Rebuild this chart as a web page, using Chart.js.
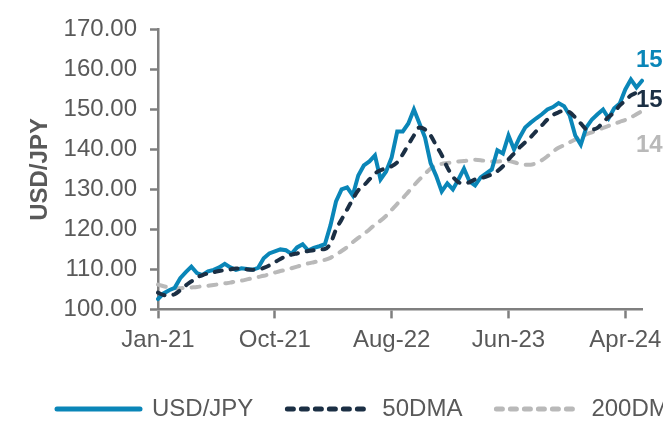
<!DOCTYPE html>
<html>
<head>
<meta charset="utf-8">
<script src="https://cdn.jsdelivr.net/npm/chart.js@4.4.1/dist/chart.umd.min.js"></script>
<style>
  html, body { margin: 0; padding: 0; background: #fff; overflow: hidden; }
  canvas { display: block; }
</style>
</head>
<body>
<canvas id="fxChart" width="740" height="431"></canvas>
<script>
'use strict';

// bi-weekly observations, Jan-21 .. end Apr-24
const tickLabels = ['Jan-21', 'Oct-21', 'Aug-22', 'Jun-23', 'Apr-24'];
const tickEvery = 21;

const usdJpy = [
  102.6, 104.0, 104.8, 105.4, 107.8, 109.3, 110.7, 109.1, 108.6, 109.5,
  109.9, 110.5, 111.4, 110.5, 109.9, 110.3, 110.1, 109.9, 110.4, 112.8,
  114.0, 114.5, 115.0, 114.8, 113.9, 115.5, 116.3, 114.7, 115.4, 115.8,
  116.3, 121.0, 127.0, 130.0, 130.5, 128.5, 133.5, 136.0, 137.0, 138.5,
  132.5, 134.5, 138.0, 144.5, 144.5, 146.5, 150.0, 146.5, 143.0, 136.6,
  133.4, 129.5, 131.5, 130.0, 132.5, 135.2, 132.0, 131.0, 133.0, 134.0,
  135.0, 139.8, 139.0, 143.5, 140.0, 143.0, 145.5, 146.7, 147.8, 148.8,
  150.0, 150.6, 151.6, 150.8, 148.5, 143.5, 141.2, 145.5, 147.5, 148.8,
  150.0, 147.8, 150.3, 151.5, 155.0, 157.5, 155.5, 157.2
];

const dma50 = [
  104.2, 103.6, 103.5, 103.8, 104.8, 106.0, 107.0, 108.0, 108.6, 109.0,
  109.3, 109.6, 109.8, 110.0, 110.2, 110.2, 110.0, 109.9, 109.9, 110.4,
  111.0, 111.8, 112.6, 113.3, 113.7, 114.0, 114.3, 114.6, 114.8, 115.0,
  115.1, 116.5, 120.0, 122.5, 125.0, 127.5, 129.8, 131.0, 132.5, 134.0,
  134.8, 135.3, 135.8, 136.8, 138.8, 141.2, 143.5, 145.5, 145.0, 143.5,
  141.0, 138.6, 135.5, 133.2, 131.8, 131.5, 131.8, 132.5, 132.8, 133.2,
  133.8, 134.6, 135.8, 137.5, 139.0, 140.5, 141.8, 143.1, 144.6, 146.0,
  147.5, 148.6, 149.3, 149.7, 149.3, 148.0, 146.5, 145.1, 145.0, 145.4,
  146.8, 148.1, 149.3, 151.0, 152.2, 153.5, 154.2, 154.8
];

const dma200 = [
  106.2, 105.8, 105.5, 105.3, 105.3, 105.4, 105.5, 105.6, 105.8, 105.9,
  106.1, 106.3, 106.5, 106.7, 107.0, 107.2, 107.5, 107.8, 108.1, 108.4,
  108.8, 109.2, 109.6, 109.9, 110.3, 110.7, 111.1, 111.5, 111.8, 112.1,
  112.4, 112.9, 113.7, 114.6, 115.6, 116.8, 117.9, 118.9, 120.0, 121.2,
  122.2, 123.4, 124.9, 126.4, 127.8, 129.4, 131.0, 132.5, 133.9, 135.2,
  136.0, 136.4, 136.6, 136.8, 137.0, 137.1, 137.3, 137.4, 137.3, 137.1,
  137.0, 137.0, 137.1, 137.1, 136.8, 136.4, 136.2, 136.2, 136.6, 137.3,
  138.3, 139.5, 140.4, 141.1, 141.8, 142.5, 143.2, 143.8, 144.3, 144.8,
  145.4, 145.9, 146.4, 146.9, 147.4, 148.0, 148.8, 149.6
];

const endLabels = ['156.82', '152.10', '149.07'];

const categories = usdJpy.map((_, i) => i);

const BLUE = '#0A86B8';
const NAVY = '#1B2F44';
const GREY = '#B9B9B9';
const AXIS = '#7F7F7F';
const TEXT = '#595959';
const FONT = "'Liberation Sans', Arial, sans-serif";

// value labels at the right end, offset from the last point of each line
const endLabelPlugin = {
  id: 'endLabels',
  afterDatasetsDraw(chart) {
    const ctx = chart.ctx;
    const offsets = [-20, 10, 34];
    ctx.save();
    ctx.font = 'bold 24px ' + FONT;
    ctx.textAlign = 'left';
    ctx.textBaseline = 'middle';
    chart.data.datasets.forEach((ds, i) => {
      const meta = chart.getDatasetMeta(i);
      const last = meta.data[meta.data.length - 1];
      if (!last) return;
      ctx.fillStyle = ds.borderColor;
      ctx.fillText(endLabels[i], chart.chartArea.right - 6, last.y + offsets[i]);
    });
    ctx.restore();
  }
};

// legend samples: take dash, width and cap from the dataset itself
function legendLabels(chart) {
  return chart.data.datasets.map((ds, i) => ({
    text: ds.label,
    datasetIndex: i,
    fillStyle: ds.borderColor,
    strokeStyle: ds.borderColor,
    fontColor: TEXT,
    lineWidth: 5,
    lineDash: ds.borderDash ? [6, 8] : [],
    lineCap: 'round',
    pointStyle: 'line',
    hidden: false
  }));
}

new Chart(document.getElementById('fxChart'), {
  type: 'line',
  data: {
    labels: categories,
    datasets: [
      {
        label: 'USD/JPY',
        data: usdJpy,
        borderColor: BLUE,
        backgroundColor: BLUE,
        borderWidth: 4,
        borderCapStyle: 'round',
        borderJoin: 'round',
        pointRadius: 0,
        tension: 0,
        order: 2
      },
      {
        label: '50DMA',
        data: dma50,
        borderColor: NAVY,
        backgroundColor: NAVY,
        borderWidth: 4,
        borderDash: [7, 9],
        borderCapStyle: 'round',
        pointRadius: 0,
        cubicInterpolationMode: 'monotone',
        order: 1
      },
      {
        label: '200DMA',
        data: dma200,
        borderColor: GREY,
        backgroundColor: GREY,
        borderWidth: 4,
        borderDash: [8, 9],
        borderCapStyle: 'round',
        pointRadius: 0,
        cubicInterpolationMode: 'monotone',
        order: 3
      }
    ]
  },
  options: {
    responsive: false,
    animation: false,
    devicePixelRatio: 1,
    layout: { padding: { left: 23, right: 0, top: 29.5, bottom: 0 } },
    plugins: {
      legend: {
        position: 'bottom',
        align: 'start',
        labels: {
          usePointStyle: true,
          pointStyle: 'line',
          pointStyleWidth: 83,
          padding: 34,
          color: TEXT,
          font: { family: FONT, size: 24 },
          generateLabels: legendLabels,
          sort: (a, b) => a.datasetIndex - b.datasetIndex
        }
      },
      tooltip: { enabled: false }
    },
    scales: {
      x: {
        type: 'category',
        grid: {
          display: true,
          drawOnChartArea: false,
          drawTicks: true,
          tickLength: 9,
          tickWidth: 2.5,
          tickColor: (c) => (c.index % tickEvery === 0 ? AXIS : 'rgba(0,0,0,0)')
        },
        border: { display: true, color: AXIS, width: 2.5 },
        ticks: {
          autoSkip: false,
          maxRotation: 0,
          padding: 7.9,
          color: TEXT,
          font: { family: FONT, size: 24 },
          callback: (v, i) => (i % tickEvery === 0 ? tickLabels[i / tickEvery] : '')
        }
      },
      y: {
        position: 'left',
        min: 100,
        max: 170,
        afterFit: (s) => { s.width = 135; },
        grid: {
          display: true,
          drawOnChartArea: false,
          drawTicks: true,
          tickLength: 8,
          tickWidth: 2.5,
          tickColor: AXIS
        },
        border: { display: true, color: AXIS, width: 2.5 },
        ticks: {
          stepSize: 10,
          padding: 13,
          color: TEXT,
          font: { family: FONT, size: 24 },
          callback: (v) => v.toFixed(2)
        },
        title: {
          display: true,
          text: 'USD/JPY',
          color: TEXT,
          padding: { top: 3, bottom: 0 },
          font: { family: FONT, size: 24, weight: 'bold' }
        }
      },
      yPad: {
        position: 'right',
        display: true,
        afterFit: (s) => { s.width = 740 - 642; },
        grid: { display: false },
        border: { display: false },
        ticks: { display: false }
      }
    }
  },
  plugins: [endLabelPlugin]
});
</script>
</body>
</html>
